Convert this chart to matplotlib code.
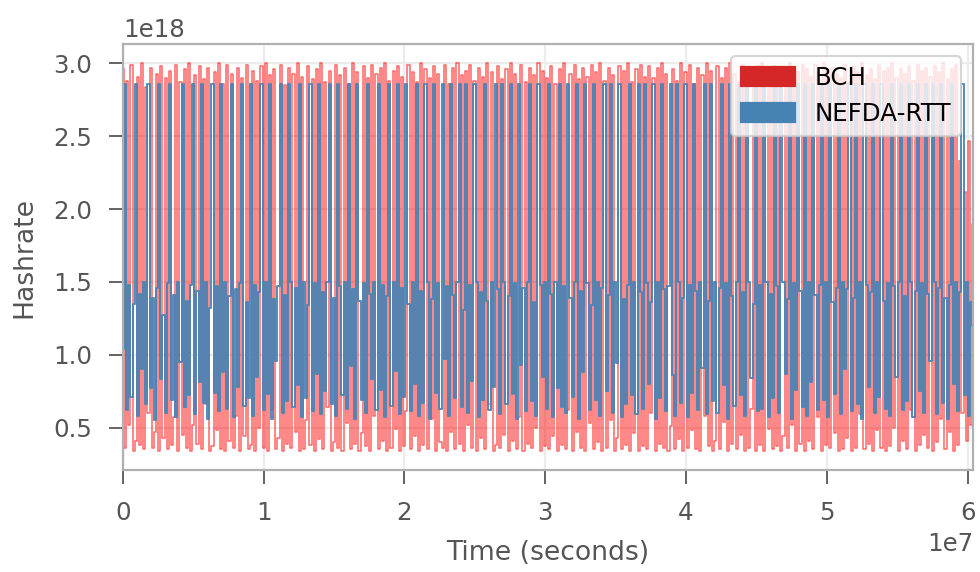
import numpy as np
from matplotlib import pyplot as plt
from matplotlib.patches import Patch

# hashrate values in units of 1e16 H/s
bch_hashrate = [
    296, 36, 288, 52, 299, 34, 41, 291, 38, 300, 35, 284, 60, 297, 36, 47, 293, 34, 298, 43,
    290, 35, 295, 38, 57, 299, 34, 287, 45, 296, 36, 300, 34, 52, 292, 39, 298, 35, 289, 66,
    297, 34, 37, 294, 48, 300, 35, 286, 34, 299, 41, 293, 36, 58, 297, 34, 290, 44, 299, 35,
    38, 295, 34, 288, 50, 298, 36, 300, 34, 292, 62, 296, 35, 43, 299, 34, 285, 39, 297, 36,
    293, 47, 300, 34, 291, 35, 55, 298, 38, 289, 34, 296, 42, 300, 35, 287, 64, 295, 34, 40,
    299, 36, 292, 34, 297, 53, 286, 35, 300, 39, 294, 34, 46, 298, 37, 290, 34, 299, 58, 293,
    35, 297, 41, 300, 34, 288, 36, 295, 49, 298, 34, 291, 37, 61, 299, 35, 294, 44, 287, 34,
    300, 38, 296, 35, 290, 56, 298, 34, 293, 40, 36, 299, 34, 286, 47, 297, 35, 300, 39, 292,
    34, 295, 52, 299, 36, 288, 34, 297, 43, 291, 35, 300, 66, 294, 34, 38, 298, 36, 289, 45,
    296, 34, 300, 41, 293, 35, 57, 299, 34, 287, 39, 297, 36, 292, 50, 300, 34, 295, 37, 290,
    35, 298, 44, 286, 34, 296, 38, 300, 35, 62, 293, 34, 299, 47, 289, 36, 297, 34, 291, 53,
    299, 35, 294, 40, 300, 34, 288, 36, 297, 55, 292, 34, 43, 298, 35, 295, 38, 300, 34, 287,
    46, 296, 34, 299, 37, 291, 35, 298, 60, 290, 34, 297, 39, 300, 36, 293, 34, 51, 296, 35,
    288, 42, 300, 34, 294, 36, 299, 48, 286, 35, 297, 34, 292, 58, 300, 37, 295, 34, 41, 298,
    35, 290, 54, 297, 34, 300, 39, 293, 35, 287, 45, 299, 34, 296, 36, 63, 291, 34, 298, 38,
    300, 34, 295, 49, 289, 35, 298, 37, 292, 34, 44, 297, 36, 300, 52, 286, 34, 294, 39, 299,
    34, 296, 41, 291, 35, 299, 57, 288, 34, 300, 38, 295, 36, 297, 46, 293, 34, 290, 35, 299,
    43, 287, 34, 298, 36, 294, 59, 300, 35, 292, 39, 296, 34, 289, 48, 299, 36, 295, 34, 297,
    37, 300, 50, 290, 34, 296, 41, 293, 35, 298, 62, 288, 34, 299, 38, 295, 45, 297, 36, 291,
    34, 298, 40, 294, 56, 300, 35, 289, 47, 296, 34, 299, 38, 233, 60, 212, 41, 247, 52, 190,
]

nefda_hashrate = [
    104, 286, 62, 148, 71, 135, 286, 58, 142, 90, 150, 66, 286, 77, 139, 55, 146, 286, 83, 127,
    60, 149, 286, 69, 141, 57, 150, 95, 286, 64, 137, 72, 148, 286, 59, 144, 81, 286, 67, 150,
    56, 132, 286, 74, 147, 61, 286, 88, 150, 63, 140, 286, 57, 145, 78, 149, 286, 65, 136, 70,
    286, 58, 148, 85, 143, 286, 62, 150, 73, 286, 56, 138, 96, 147, 286, 60, 141, 68, 286, 150,
    64, 146, 79, 286, 57, 150, 70, 134, 286, 61, 149, 87, 286, 59, 143, 75, 150, 286, 66, 139,
    58, 286, 147, 72, 150, 63, 286, 92, 145, 56, 286, 137, 69, 149, 60, 286, 142, 83, 150, 62,
    286, 76, 148, 57, 140, 286, 65, 150, 89, 286, 59, 146, 71, 286, 135, 61, 150, 80, 286, 58,
    144, 67, 286, 150, 56, 138, 286, 74, 149, 63, 286, 97, 147, 58, 286, 141, 70, 150, 286, 64,
    131, 286, 60, 148, 82, 286, 150, 57, 143, 69, 286, 137, 62, 150, 78, 286, 145, 59, 286, 150,
    66, 140, 286, 73, 149, 56, 286, 93, 146, 61, 150, 286, 68, 136, 58, 286, 148, 85, 150, 63,
    286, 142, 57, 150, 77, 286, 64, 147, 60, 286, 139, 71, 150, 286, 56, 144, 88, 286, 149, 62,
    134, 286, 69, 150, 58, 146, 286, 75, 141, 286, 60, 150, 94, 286, 57, 138, 66, 148, 286, 72,
    150, 59, 286, 143, 63, 286, 149, 80, 136, 286, 56, 150, 70, 286, 145, 61, 147, 286, 86, 58,
    286, 150, 67, 139, 286, 57, 148, 74, 286, 144, 62, 150, 91, 286, 59, 137, 286, 68, 150, 60,
    146, 286, 79, 149, 56, 286, 140, 65, 150, 286, 72, 143, 58, 286, 150, 84, 135, 286, 61, 148,
    63, 286, 150, 57, 142, 70, 286, 147, 60, 286, 150, 87, 138, 286, 56, 149, 76, 286, 144, 64,
    286, 58, 150, 81, 286, 141, 62, 148, 286, 69, 150, 57, 286, 136, 73, 146, 286, 59, 150, 90,
    145, 286, 61, 139, 286, 66, 150, 56, 286, 148, 78, 143, 286, 60, 150, 71, 286, 137, 63, 149,
    58, 286, 147, 85, 150, 286, 62, 140, 68, 286, 150, 57, 144, 286, 75, 149, 60, 286, 142, 96,
    286, 150, 59, 146, 286, 67, 139, 56, 148, 286, 80, 150, 61, 143, 286, 72, 150, 58, 136, 120,
]

series_names = ["BCH", "NEFDA-RTT"]
total_time = 6.04e7  # seconds
hash_unit = 1e16


def plot_hashrate():
    """
    Draws both hashrate traces over time.
    """
    bch = np.array(bch_hashrate) * hash_unit
    nefda = np.array(nefda_hashrate) * hash_unit
    time = np.linspace(0, total_time, len(bch))

    grey = "#555555"
    fig, ax = plt.subplots(figsize=(6.125, 3.575), dpi=160)
    fig.subplots_adjust(left=0.1255, right=0.993, top=0.923, bottom=0.178)

    ax.plot(time, bch, color="red", alpha=0.6, lw=0.7, drawstyle="steps-mid")
    ax.plot(time, nefda, color="steelblue", alpha=0.9, lw=0.9, drawstyle="steps-mid")

    ax.set_xlim(0, total_time)
    ax.margins(y=0.05)
    ax.set_axisbelow(True)
    ax.grid(color="#ececec", lw=1.0)
    for spine in ax.spines.values():
        spine.set_color("#b0b0b0")
        spine.set_linewidth(1.0)
    ax.tick_params(labelsize=11, colors=grey, length=6.3, width=0.8,
                   pad=7.5, labelcolor=grey)
    ax.xaxis.get_offset_text().set_color(grey)
    ax.yaxis.get_offset_text().set_color(grey)
    ax.xaxis.get_offset_text().set_fontsize(11)
    ax.yaxis.get_offset_text().set_fontsize(11)

    ax.set_xlabel("Time (seconds)", fontsize=12, color=grey, labelpad=7)
    ax.set_ylabel("Hashrate", fontsize=12, color=grey, labelpad=7)

    handles = [Patch(color="tab:red"), Patch(color="steelblue")]
    ax.legend(handles, series_names, loc="upper right", fontsize=11,
              handlelength=2.2, handleheight=0.8)

    fig.savefig("out.png", dpi=160)
    plt.close()


if __name__ == '__main__':
    plot_hashrate()
